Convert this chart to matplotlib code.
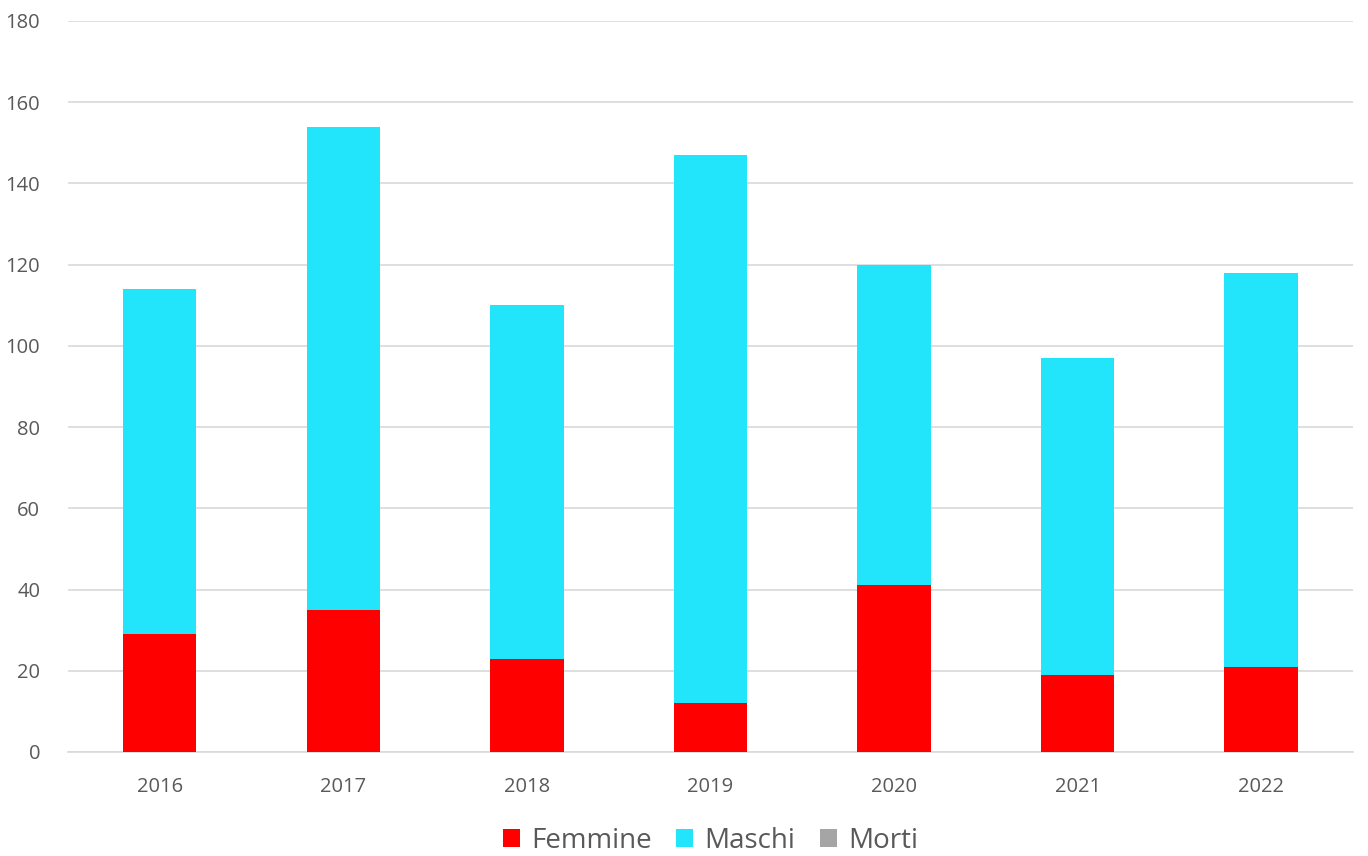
import numpy as np
import matplotlib.pyplot as plt

plt.rcParams['font.family'] = ['Open Sans', 'DejaVu Sans']

anni = ['2016', '2017', '2018', '2019', '2020', '2021', '2022']
femmine = [29, 35, 23, 12, 41, 19, 21]
maschi = [85, 119, 87, 135, 79, 78, 97]
morti = [0, 0, 0, 0, 0, 0, 0]

x = np.arange(len(anni))
fig = plt.figure(figsize=(13.68, 8.56), dpi=100)
ax = fig.add_axes([0.0497, 0.1215, 0.9393, 0.854])

w = 0.4
ax.bar(x, femmine, w, color='#FF0000', label='Femmine', zorder=3)
ax.bar(x, maschi, w, bottom=femmine, color='#22E4FA', label='Maschi', zorder=3)
ax.bar(x, morti, w, bottom=np.add(femmine, maschi), color='#A5A5A5', label='Morti', zorder=3)

ax.set_xlim(-0.5, len(anni) - 0.5)
ax.set_ylim(0, 180)
ax.set_yticks(range(0, 181, 20))
ax.set_xticks(x)
ax.set_xticklabels(anni)
ax.grid(axis='y', color='#D9D9D9', linewidth=1.2, zorder=0)
for s in ['top', 'right', 'left']:
    ax.spines[s].set_visible(False)
ax.spines['bottom'].set_color('#D9D9D9')
ax.spines['bottom'].set_linewidth(1.2)
ax.tick_params(length=0, labelsize=14.5, colors='#595959', pad=18)
ax.tick_params(axis='y', pad=20)

ax.legend(loc='lower center', bbox_to_anchor=(0.5, -0.175), ncol=3, frameon=False,
          fontsize=20, labelcolor='#595959', handlelength=0.6, handleheight=0.6,
          columnspacing=0.9, handletextpad=0.4)

fig.savefig('out.png', dpi=100)
